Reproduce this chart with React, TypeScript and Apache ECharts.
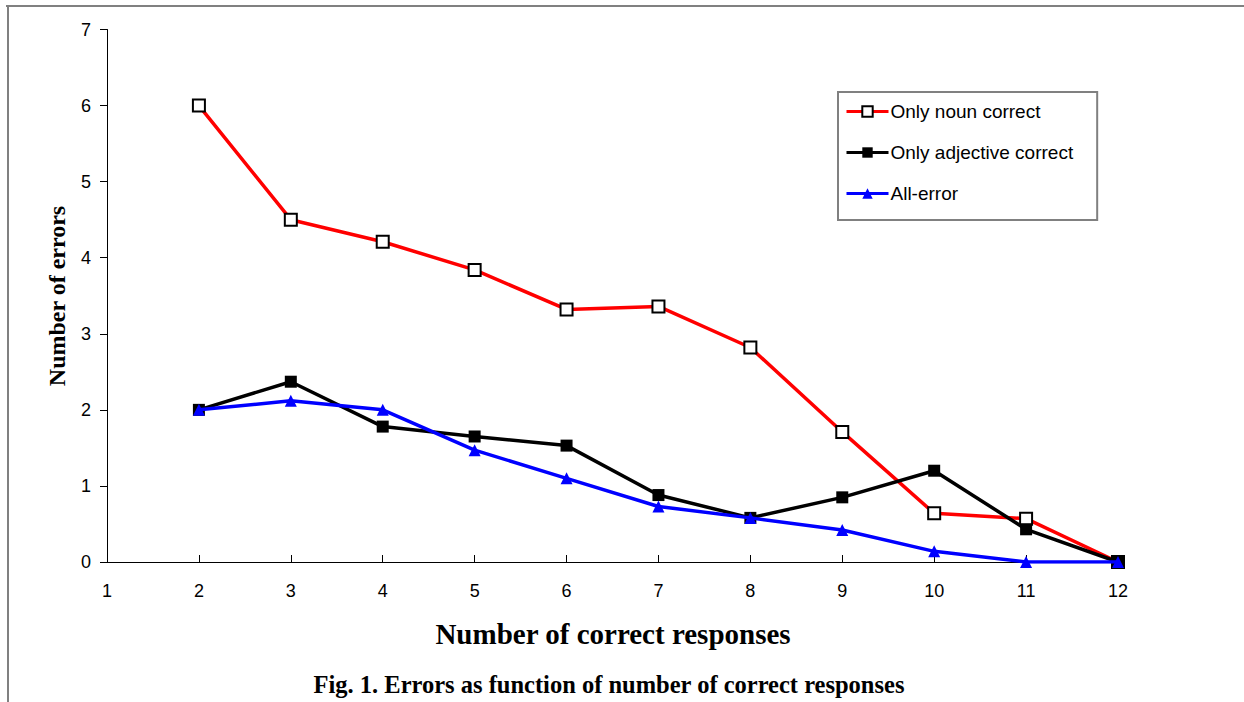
import React, { useEffect, useRef } from "react";
import * as echarts from "echarts";

const xValues = [2, 3, 4, 5, 6, 7, 8, 9, 10, 11, 12];
const onlyNoun = [6.0, 4.5, 4.21, 3.84, 3.32, 3.36, 2.82, 1.71, 0.64, 0.57, 0];
const onlyAdjective = [2.0, 2.37, 1.78, 1.65, 1.53, 0.88, 0.58, 0.85, 1.2, 0.43, 0];
const allError = [2.0, 2.12, 2.0, 1.47, 1.1, 0.73, 0.58, 0.42, 0.14, 0, 0];
const seriesNames = ["Only noun correct", "Only adjective correct", "All-error"];
const xTitle = "Number of correct responses";
const yTitle = "Number of errors";
const caption = "Fig. 1. Errors as function of number of correct responses";

const pair = (vals: number[]) => xValues.map((x, i) => [x, vals[i]]);

export default function App() {
  const ref = useRef<HTMLDivElement>(null);
  useEffect(() => {
    if (!ref.current) return;
    const chart = echarts.init(ref.current, null, { renderer: "svg" });
    const sans = "Liberation Sans";
    const serif = "Liberation Serif";
    chart.setOption({
      animation: false,
      backgroundColor: "#ffffff",
      grid: { left: 107, right: 126, top: 29.5, bottom: 140, containLabel: false },
      xAxis: {
        type: "value",
        min: 1,
        max: 12,
        interval: 1,
        axisLine: { lineStyle: { color: "#000", width: 1 } },
        axisTick: { inside: true, length: 7, lineStyle: { color: "#000" } },
        axisLabel: { margin: 20, fontFamily: sans, fontSize: 18, color: "#000" },
        splitLine: { show: false },
      },
      yAxis: {
        type: "value",
        min: 0,
        max: 7,
        interval: 1,
        axisLine: { show: true, lineStyle: { color: "#000", width: 1 } },
        axisTick: { show: true, length: 7, lineStyle: { color: "#000" } },
        axisLabel: { margin: 16, fontFamily: sans, fontSize: 18, color: "#000" },
        splitLine: { show: false },
      },
      legend: {
        orient: "vertical",
        left: 838,
        top: 92,
        padding: [10, 24, 17, 7],
        itemWidth: 42,
        itemHeight: 13,
        itemGap: 22,
        borderColor: "#808080",
        borderWidth: 2,
        lineStyle: { width: 3 },
        textStyle: { fontFamily: sans, fontSize: 19, color: "#000", padding: [0, 0, 0, -3] },
        data: seriesNames,
      },
      series: [
        {
          name: seriesNames[0],
          type: "line",
          data: pair(onlyNoun),
          symbol: "rect",
          symbolSize: 12,
          lineStyle: { color: "#ff0000", width: 3.5 },
          itemStyle: { color: "#ffffff", borderColor: "#000000", borderWidth: 2 },
          z: 2,
        },
        {
          name: seriesNames[1],
          type: "line",
          data: pair(onlyAdjective),
          symbol: "rect",
          symbolSize: 12,
          lineStyle: { color: "#000000", width: 3.5 },
          itemStyle: { color: "#000000" },
          z: 3,
        },
        {
          name: seriesNames[2],
          type: "line",
          data: pair(allError),
          symbol: "triangle",
          symbolSize: 12,
          lineStyle: { color: "#0000ff", width: 3.5 },
          itemStyle: { color: "#0000ff" },
          z: 4,
        },
      ],
      graphic: [
        { type: "line", shape: { x1: 6, y1: 6, x2: 1244, y2: 6 }, style: { stroke: "#808080", lineWidth: 2 } },
        { type: "line", shape: { x1: 8, y1: 5, x2: 8, y2: 702 }, style: { stroke: "#808080", lineWidth: 2 } },
        {
          type: "text",
          x: 613,
          y: 634,
          style: { text: xTitle, fontFamily: serif, fontWeight: "bold", fontSize: 29, fill: "#000", align: "center", verticalAlign: "middle" },
        },
        {
          type: "text",
          x: 57,
          y: 296,
          rotation: Math.PI / 2,
          style: { text: yTitle, fontFamily: serif, fontWeight: "bold", fontSize: 24, fill: "#000", align: "center", verticalAlign: "middle" },
        },
        {
          type: "text",
          x: 609,
          y: 684,
          style: { text: caption, fontFamily: serif, fontWeight: "bold", fontSize: 24.5, fill: "#000", align: "center", verticalAlign: "middle" },
        },
      ],
    });
    return () => chart.dispose();
  }, []);
  return <div ref={ref} style={{ position: "absolute", left: 0, top: 0, width: 1244, height: 702 }} />;
}
